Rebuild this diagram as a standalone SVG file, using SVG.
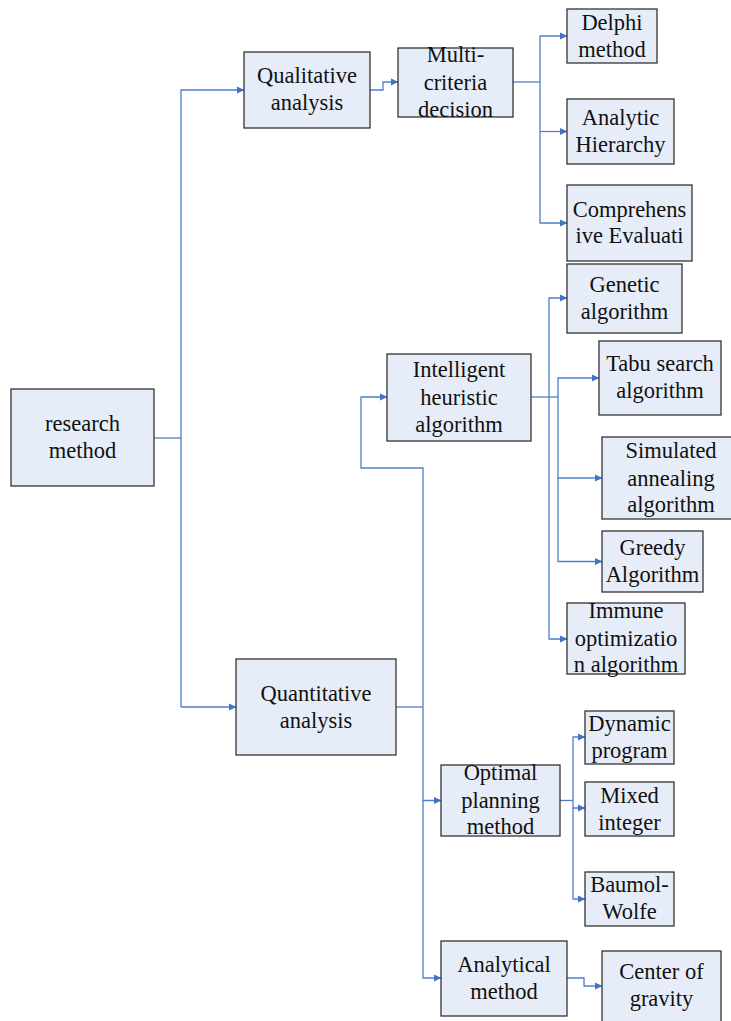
<svg xmlns="http://www.w3.org/2000/svg" width="731" height="1021" viewBox="0 0 731 1021">
<style>
.box{fill:#E7EDF8;stroke:#333;stroke-width:1.3}
.t{font-size:22.5px;fill:#111;text-anchor:middle}
.c{fill:none;stroke:#4F7FCB;stroke-width:1.3}
</style>
<defs>
<marker id="ar" markerWidth="8" markerHeight="8" refX="7" refY="4" orient="auto" markerUnits="userSpaceOnUse">
<path d="M0,0.5 L7.5,4 L0,7.5 Z" fill="#4472C4"/>
</marker>
</defs>
<rect width="731" height="1021" fill="#fff"/>
<g id="connectors">
<path class="c" d="M154,438 H181"/>
<path class="c" d="M181,707 V90 H244" marker-end="url(#ar)"/>
<path class="c" d="M181,707 H236" marker-end="url(#ar)"/>
<path class="c" d="M370,90 H383 V82 H398" marker-end="url(#ar)"/>
<path class="c" d="M513,82 H540"/>
<path class="c" d="M540,131.5 V36 H567" marker-end="url(#ar)"/>
<path class="c" d="M540,131.5 H567" marker-end="url(#ar)"/>
<path class="c" d="M540,131.5 V223 H567" marker-end="url(#ar)"/>
<path class="c" d="M396,707 H423"/>
<path class="c" d="M423,707 V468 H361 V397 H387" marker-end="url(#ar)"/>
<path class="c" d="M423,707 V800.5 H441" marker-end="url(#ar)"/>
<path class="c" d="M423,800 V978 H441" marker-end="url(#ar)"/>
<path class="c" d="M531,397 H558"/>
<path class="c" d="M549,397 V298 H567" marker-end="url(#ar)"/>
<path class="c" d="M549,397 V639 H567" marker-end="url(#ar)"/>
<path class="c" d="M558,397 V378 H599" marker-end="url(#ar)"/>
<path class="c" d="M558,397 V478 H602" marker-end="url(#ar)"/>
<path class="c" d="M558,478 V561.5 H602" marker-end="url(#ar)"/>
<path class="c" d="M560,800.5 H573"/>
<path class="c" d="M573,800.5 V737 H585" marker-end="url(#ar)"/>
<path class="c" d="M573,800.5 V808 H585" marker-end="url(#ar)"/>
<path class="c" d="M573,808 V899 H585" marker-end="url(#ar)"/>
<path class="c" d="M567,978 H584 V986 H602" marker-end="url(#ar)"/>
</g>
<g font-family="Liberation Serif, Times New Roman, serif">
<g id="research"><rect class="box" x="11" y="389" width="143" height="97"/><text class="t" x="82.5" y="431">research</text><text class="t" x="82.5" y="458">method</text></g>
<g id="qualitative"><rect class="box" x="244" y="52" width="126" height="76"/><text class="t" x="307" y="83">Qualitative</text><text class="t" x="307" y="110">analysis</text></g>
<g id="multi"><rect class="box" x="398" y="48" width="115" height="69"/><text class="t" x="455.5" y="62">Multi-</text><text class="t" x="455.5" y="90">criteria</text><text class="t" x="455.5" y="117">decision</text></g>
<g id="delphi"><rect class="box" x="567" y="9" width="90" height="54"/><text class="t" x="612" y="30">Delphi</text><text class="t" x="612" y="57">method</text></g>
<g id="ahp"><rect class="box" x="567" y="99" width="107" height="65"/><text class="t" x="620.5" y="125">Analytic</text><text class="t" x="620.5" y="152">Hierarchy</text></g>
<g id="comprehensive"><rect class="box" x="567" y="185" width="125" height="76"/><text class="t" x="629.5" y="217">Comprehens</text><text class="t" x="629.5" y="243">ive Evaluati</text></g>
<g id="genetic"><rect class="box" x="567" y="264" width="115" height="69"/><text class="t" x="624.5" y="292">Genetic</text><text class="t" x="624.5" y="319">algorithm</text></g>
<g id="tabu"><rect class="box" x="599" y="341" width="122" height="74"/><text class="t" x="660" y="371">Tabu search</text><text class="t" x="660" y="398">algorithm</text></g>
<g id="intelligent"><rect class="box" x="387" y="354" width="144" height="87"/><text class="t" x="459" y="377">Intelligent</text><text class="t" x="459" y="405">heuristic</text><text class="t" x="459" y="432">algorithm</text></g>
<g id="simulated"><rect class="box" x="602" y="437" width="138" height="82"/><text class="t" x="671" y="458">Simulated</text><text class="t" x="671" y="485.5">annealing</text><text class="t" x="671" y="512">algorithm</text></g>
<g id="greedy"><rect class="box" x="602" y="531" width="101" height="61"/><text class="t" x="652.5" y="555">Greedy</text><text class="t" x="652.5" y="581.5">Algorithm</text></g>
<g id="immune"><rect class="box" x="567" y="603" width="118" height="71"/><text class="t" x="626" y="617.5">Immune</text><text class="t" x="626" y="645.5">optimizatio</text><text class="t" x="626" y="672">n algorithm</text></g>
<g id="quantitative"><rect class="box" x="236" y="659" width="160" height="96"/><text class="t" x="316" y="701">Quantitative</text><text class="t" x="316" y="727.5">analysis</text></g>
<g id="optimal"><rect class="box" x="441" y="765" width="119" height="71"/><text class="t" x="500.5" y="780">Optimal</text><text class="t" x="500.5" y="807.5">planning</text><text class="t" x="500.5" y="834">method</text></g>
<g id="dynamic"><rect class="box" x="585" y="711" width="89" height="53"/><text class="t" x="629.5" y="731">Dynamic</text><text class="t" x="629.5" y="757.5">program</text></g>
<g id="mixed"><rect class="box" x="585" y="782" width="89" height="54"/><text class="t" x="629.5" y="803">Mixed</text><text class="t" x="629.5" y="830">integer</text></g>
<g id="baumol"><rect class="box" x="585" y="872" width="89" height="54"/><text class="t" x="629.5" y="892">Baumol-</text><text class="t" x="629.5" y="919">Wolfe</text></g>
<g id="analytical"><rect class="box" x="441" y="941" width="126" height="75"/><text class="t" x="504" y="972">Analytical</text><text class="t" x="504" y="999">method</text></g>
<g id="center"><rect class="box" x="602" y="951" width="119" height="80"/><text class="t" x="661.5" y="979">Center of</text><text class="t" x="661.5" y="1006">gravity</text></g>
</g>
</svg>
